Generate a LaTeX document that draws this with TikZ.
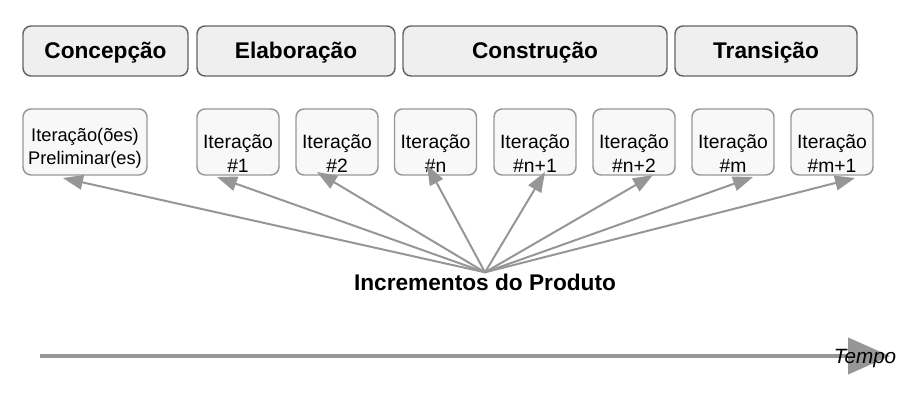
\documentclass[tikz,border=0pt]{standalone}
\usepackage{fontspec}
\setmainfont{Liberation Sans}
\usetikzlibrary{arrows.meta}

\definecolor{phasefill}{RGB}{239,239,239}
\definecolor{phaseline}{RGB}{100,100,100}
\definecolor{iterfill}{RGB}{248,248,248}
\definecolor{iterline}{RGB}{150,150,150}
\definecolor{incline}{RGB}{150,150,150}
\definecolor{timegray}{RGB}{150,150,150}

\begin{document}
\begin{tikzpicture}[x=0.75pt,y=0.75pt,yscale=-1,xscale=1,
  phase/.style={draw=phaseline, fill=phasefill, line width=1.1pt, rounded corners=6pt,
    minimum height=37.5pt, inner sep=0pt, text height=12pt, text depth=0pt,
    font=\fontsize{17}{20}\selectfont\bfseries},
  iter/.style={draw=iterline, fill=iterfill, line width=1.1pt, rounded corners=6pt,
    minimum width=61.5pt, minimum height=49.5pt, inner sep=0pt, align=center,
    font=\fontsize{14.5}{18}\selectfont},
  incr/.style={draw=incline, line width=1.5pt, -{Triangle[length=15pt,width=11pt]}}]
\useasboundingbox (0,0) rectangle (917,406);

% Phase Nodes
\draw (105.5,51) node (concep) [phase, minimum width=123.75pt] {Concepção};
\draw (296,51) node (elab) [phase, minimum width=148.5pt] {Elaboração};
\draw (535,51) node (constr) [phase, minimum width=198pt] {Construção};
\draw (766,51) node (trans) [phase, minimum width=136.5pt] {Transição};

% Iteration Nodes
\draw (85,142) node (it0) [iter, minimum width=93pt, font=\fontsize{13.7}{17.3}\selectfont] {\rule{0pt}{20pt}Iteração(ões)\\Preliminar(es)};
\draw (238,142) node (it1) [iter] {\rule{0pt}{27.4pt}Iteração\\\#1};
\draw (337,142) node (it2) [iter] {\rule{0pt}{27.4pt}Iteração\\\#2};
\draw (435.5,142) node (it3) [iter] {\rule{0pt}{27.4pt}Iteração\\\#n};
\draw (535,142) node (it4) [iter] {\rule{0pt}{27.4pt}Iteração\\\#n+1};
\draw (634,142) node (it5) [iter] {\rule{0pt}{27.4pt}Iteração\\\#n+2};
\draw (733,142) node (it6) [iter] {\rule{0pt}{27.4pt}Iteração\\\#m};
\draw (832,142) node (it7) [iter] {\rule{0pt}{27.4pt}Iteração\\\#m+1};

% Text Node
\draw (485,290) node (inc) [anchor=base, inner sep=0.75pt, font=\fontsize{17}{20}\selectfont\bfseries] {Incrementos do Produto};

% Arrow ends
\coordinate (tip0) at (63,178);
\coordinate (tip1) at (217,177);
\coordinate (tip2) at (317,172);
\coordinate (tip3) at (427,165);
\coordinate (tip4) at (545,172);
\coordinate (tip5) at (653,175);
\coordinate (tip6) at (753,177);
\coordinate (tip7) at (855,178);

%Straight Lines
\draw [incr] (inc.north) -- (tip0);
\draw [incr] (inc.north) -- (tip1);
\draw [incr] (inc.north) -- (tip2);
\draw [incr] (inc.north) -- (tip3);
\draw [incr] (inc.north) -- (tip4);
\draw [incr] (inc.north) -- (tip5);
\draw [incr] (inc.north) -- (tip6);
\draw [incr] (inc.north) -- (tip7);

% Time line
\coordinate (tstart) at (40,356);
\coordinate (tend) at (890,356);
\draw [draw=timegray, line width=3.3pt, -{Triangle[length=31.5pt,width=27pt]}] (tstart) -- (tend);

% Text Node
\draw (865,363) node (tempo) [anchor=base, inner sep=0.75pt, font=\fontsize{15.5}{18}\selectfont\itshape] {Tempo};

\end{tikzpicture}
\end{document}
